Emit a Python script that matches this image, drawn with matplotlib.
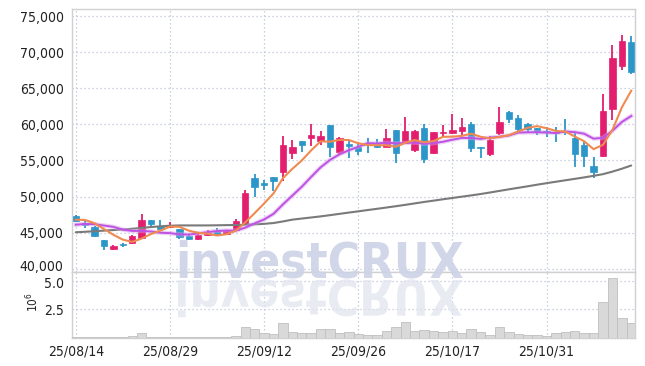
import matplotlib
matplotlib.use('Agg')
import matplotlib.pyplot as plt
import matplotlib.ticker as mticker
import numpy as np
import pandas as pd
from matplotlib.textpath import TextPath
from matplotlib.font_manager import FontProperties
from matplotlib.patches import PathPatch
from matplotlib.transforms import Affine2D, IdentityTransform, ScaledTranslation

# ---------------- data ----------------
dates = ['25/08/14', '25/08/18', '25/08/19', '25/08/20', '25/08/21', '25/08/22',
         '25/08/25', '25/08/26', '25/08/27', '25/08/28', '25/08/29',
         '25/09/01', '25/09/02', '25/09/03', '25/09/04', '25/09/05',
         '25/09/08', '25/09/09', '25/09/10', '25/09/11', '25/09/12',
         '25/09/15', '25/09/16', '25/09/17', '25/09/18', '25/09/19',
         '25/09/22', '25/09/23', '25/09/24', '25/09/25', '25/09/26',
         '25/09/29', '25/09/30', '25/10/01', '25/10/02', '25/10/10',
         '25/10/13', '25/10/14', '25/10/15', '25/10/16', '25/10/17',
         '25/10/20', '25/10/21', '25/10/22', '25/10/23', '25/10/24',
         '25/10/27', '25/10/28', '25/10/29', '25/10/30', '25/10/31',
         '25/11/03', '25/11/04', '25/11/05', '25/11/06', '25/11/07',
         '25/11/10', '25/11/11', '25/11/12', '25/11/13']

opens = [47330, 46400, 45850, 44000, 42750, 43350, 43560, 44250, 46700, 45950,
         45720, 45540, 44570, 44120, 44610, 45260, 44850, 45400, 46330, 52550,
         51860, 52690, 53460, 56000, 57710, 58170, 57750, 59920, 56230, 57250,
         56800, 57390, 57480, 56920, 59230, 57480, 56460, 59550, 56010, 58780,
         58860, 59140, 60060, 56920, 55910, 58780, 61770, 60850, 60020, 59460,
         59090, 59000, 59090, 58170, 57150, 54290, 55680, 62090, 68120, 71360]
highs = [47450, 46750, 45900, 44000, 43300, 43600, 44700, 47610, 46700, 46800,
         46450, 45540, 44710, 44800, 45300, 45600, 45400, 46860, 50930, 53100,
         52300, 52690, 58400, 57850, 57710, 60020, 59090, 59950, 58300, 57850,
         57600, 58170, 58000, 59330, 59230, 61070, 59200, 60020, 59000, 59920,
         61400, 60940, 60380, 56920, 58440, 62460, 61900, 61300, 60150, 59460,
         59600, 59690, 60750, 58780, 57710, 55540, 64170, 70990, 72370, 72230]
lows = [46500, 45700, 44330, 42630, 42650, 43000, 43450, 44150, 45900, 45450,
        45650, 44120, 43920, 44000, 44550, 44800, 44800, 45260, 46200, 49910,
        50930, 50700, 52180, 55220, 56140, 57010, 57150, 55540, 55950, 55310,
        55770, 56000, 56700, 56920, 54630, 57480, 56200, 54630, 55900, 58300,
        58640, 58540, 56140, 55310, 55680, 58540, 60160, 59000, 59000, 58540,
        58300, 57530, 58540, 54070, 54070, 52550, 55540, 60610, 67530, 66930]
closes = [46680, 46100, 44470, 43090, 43180, 43300, 44570, 46780, 46230, 45540,
          46100, 44400, 44120, 44710, 44950, 44850, 45260, 46560, 50470, 51380,
          51530, 52180, 57150, 56920, 57150, 58540, 58450, 56920, 58170, 57060,
          56330, 57160, 56800, 58080, 56090, 59090, 59090, 55260, 58910, 59000,
          59230, 59600, 56780, 56780, 57850, 60300, 60750, 59370, 59330, 58990,
          58910, 58860, 58910, 55910, 55680, 53460, 61860, 69150, 71540, 67300]
# volume in millions of shares
volumes = [0.10, 0.10, 0.10, 0.10, 0.08, 0.12, 0.15, 0.41, 0.10, 0.05,
           0.10, 0.10, 0.12, 0.10, 0.10, 0.10, 0.12, 0.20, 0.93, 0.76,
           0.46, 0.35, 1.28, 0.55, 0.46, 0.46, 0.79, 0.79, 0.46, 0.50,
           0.35, 0.30, 0.30, 0.64, 0.93, 1.37, 0.58, 0.73, 0.58, 0.50,
           0.58, 0.41, 0.79, 0.50, 0.30, 0.99, 0.50, 0.35, 0.30, 0.30,
           0.20, 0.41, 0.50, 0.58, 0.41, 0.41, 3.12, 5.21, 1.72, 1.34]
# closes of the nine sessions before the window (estimated, for the MA lead-in)
pre_closes = [45000, 44900, 44900, 45040, 47160, 46350, 46720, 47090, 47160]
# 60-day moving average
ma60 = [45050, 45120, 45200, 45280, 45360, 45440, 45540, 45660, 45780, 45880,
        45960, 46000, 46000, 46000, 46000, 46020, 46040, 46060, 46100, 46150,
        46220, 46330, 46550, 46800, 46950, 47100, 47250, 47420, 47600, 47780,
        47950, 48130, 48300, 48480, 48660, 48850, 49050, 49250, 49430, 49620,
        49800, 49980, 50160, 50350, 50560, 50780, 51000, 51210, 51420, 51640,
        51850, 52050, 52250, 52450, 52650, 52870, 53100, 53450, 53850, 54300]

tick_idx = [0, 10, 20, 30, 40, 50]
price_ticks = [40000, 45000, 50000, 55000, 60000, 65000, 70000, 75000]
vol_ticks = [2.5, 5.0]

# ---------------- style ----------------
FONT = ['DejaVu Sans']
plt.rcParams['font.family'] = FONT
plt.rcParams['font.stretch'] = 'condensed'
RED = '#e31e6e'
BLUE = '#2d96c8'
GRID = '#bcc3d6'
SPINE = '#d0d0d0'
TXT = '#222222'

W, H = 645, 366
fig = plt.figure(figsize=(W / 100, H / 100), dpi=100)
L, R = 72, 635
ax = fig.add_axes([L / W, 1 - 272 / H, (R - L) / W, (272 - 9.3) / H])
axv = fig.add_axes([L / W, 1 - 338 / H, (R - L) / W, (338 - 272) / H], sharex=ax)

x = np.arange(len(closes))
o = np.array(opens, float); c = np.array(closes, float)
hi = np.array(highs, float); lo = np.array(lows, float)
up = c >= o
cols = np.where(up, RED, BLUE)

ax.vlines(x, lo, hi, colors=cols, linewidth=1.3, zorder=3)
bot = np.minimum(o, c)
hgt = np.maximum(np.abs(c - o), 70)
ax.bar(x, hgt, bottom=bot, width=0.68, color=cols, edgecolor=cols,
       linewidth=0.5, zorder=4)

s = pd.Series(pre_closes + closes, dtype=float)
ma5 = s.rolling(5).mean().iloc[len(pre_closes):].to_numpy()
ma10 = s.rolling(10).mean().iloc[len(pre_closes):].to_numpy()
ax.plot(x, ma60, color='#7a7a7a', lw=1.5, zorder=5, solid_capstyle='round')
ax.plot(x, ma10, color='#d7a0ef', lw=3.2, alpha=0.45, zorder=5)
ax.plot(x, ma10, color='#bf52e3', lw=1.4, zorder=6)
ax.plot(x, ma5, color='#f08a50', lw=1.5, zorder=7)

ax.set_xlim(-0.4, len(closes) - 0.6)
ax.set_ylim(39550, 75930)
ax.set_yticks(price_ticks)
ax.yaxis.set_major_formatter(mticker.FuncFormatter(lambda v, p: f'{int(v):,}'))

axv.bar(x, volumes, width=1.0, color='#d9d9d9', edgecolor='#bfbfbf',
        linewidth=0.6, zorder=3)
axv.set_ylim(0, 5.77)
axv.set_yticks(vol_ticks)
axv.yaxis.set_major_formatter(mticker.FormatStrFormatter('%.1f'))
axv.set_xticks(tick_idx)
axv.set_xticklabels([dates[i] for i in tick_idx])
axv.text(-0.07, 0.55, r'$10^{6}$', transform=axv.transAxes, rotation=90,
         ha='center', va='center', fontsize=8.5, color=TXT)

for a in (ax, axv):
    a.grid(True, color=GRID, linestyle=(0, (1, 2.2)), linewidth=0.9)
    a.set_axisbelow(True)
    for sp in a.spines.values():
        sp.set_color(SPINE)
        sp.set_linewidth(1.0)
    a.tick_params(length=0, pad=6, labelsize=10, colors=TXT)
ax.tick_params(labelbottom=False)
axv.tick_params(axis='x', pad=5)

# nudge the two labels that meet at the pane boundary apart
for lab in ax.get_yticklabels():
    if lab.get_text() == '40,000':
        lab.set_transform(lab.get_transform() + ScaledTranslation(0, 2 / 72, fig.dpi_scale_trans))
for lab in axv.get_yticklabels():
    if lab.get_text() == '5.0':
        lab.set_transform(lab.get_transform() + ScaledTranslation(0, -1.5 / 72, fig.dpi_scale_trans))

# watermark "investCRUX" with reflection
target_w = 284.0
fp0 = FontProperties(family=FONT, weight='bold', stretch='condensed', size=40)
tp0 = TextPath((0, 0), 'investCRUX', size=40 * 100 / 72, prop=fp0)
size = 40 * target_w / tp0.get_extents().width
fp = FontProperties(family=FONT, weight='bold', stretch='condensed', size=size)
wm_color = '#cdd3e6'
cx, base_y = 320, 278
fig.text(cx / W, 1 - base_y / H, 'investCRUX', ha='center', va='baseline',
         fontproperties=fp, color=wm_color, alpha=0.92, zorder=10)
tp = TextPath((0, 0), 'investCRUX', size=size * 100 / 72, prop=fp)
ext = tp.get_extents()
tr = Affine2D().scale(1, -1).translate(cx - (ext.x0 + ext.width / 2), H - base_y - 2)
refl = PathPatch(tr.transform_path(tp), facecolor='#e2e5f0', edgecolor='none',
                 alpha=0.75, transform=IdentityTransform(), zorder=9)
fig.add_artist(refl)

fig.savefig('out.png', dpi=100)
